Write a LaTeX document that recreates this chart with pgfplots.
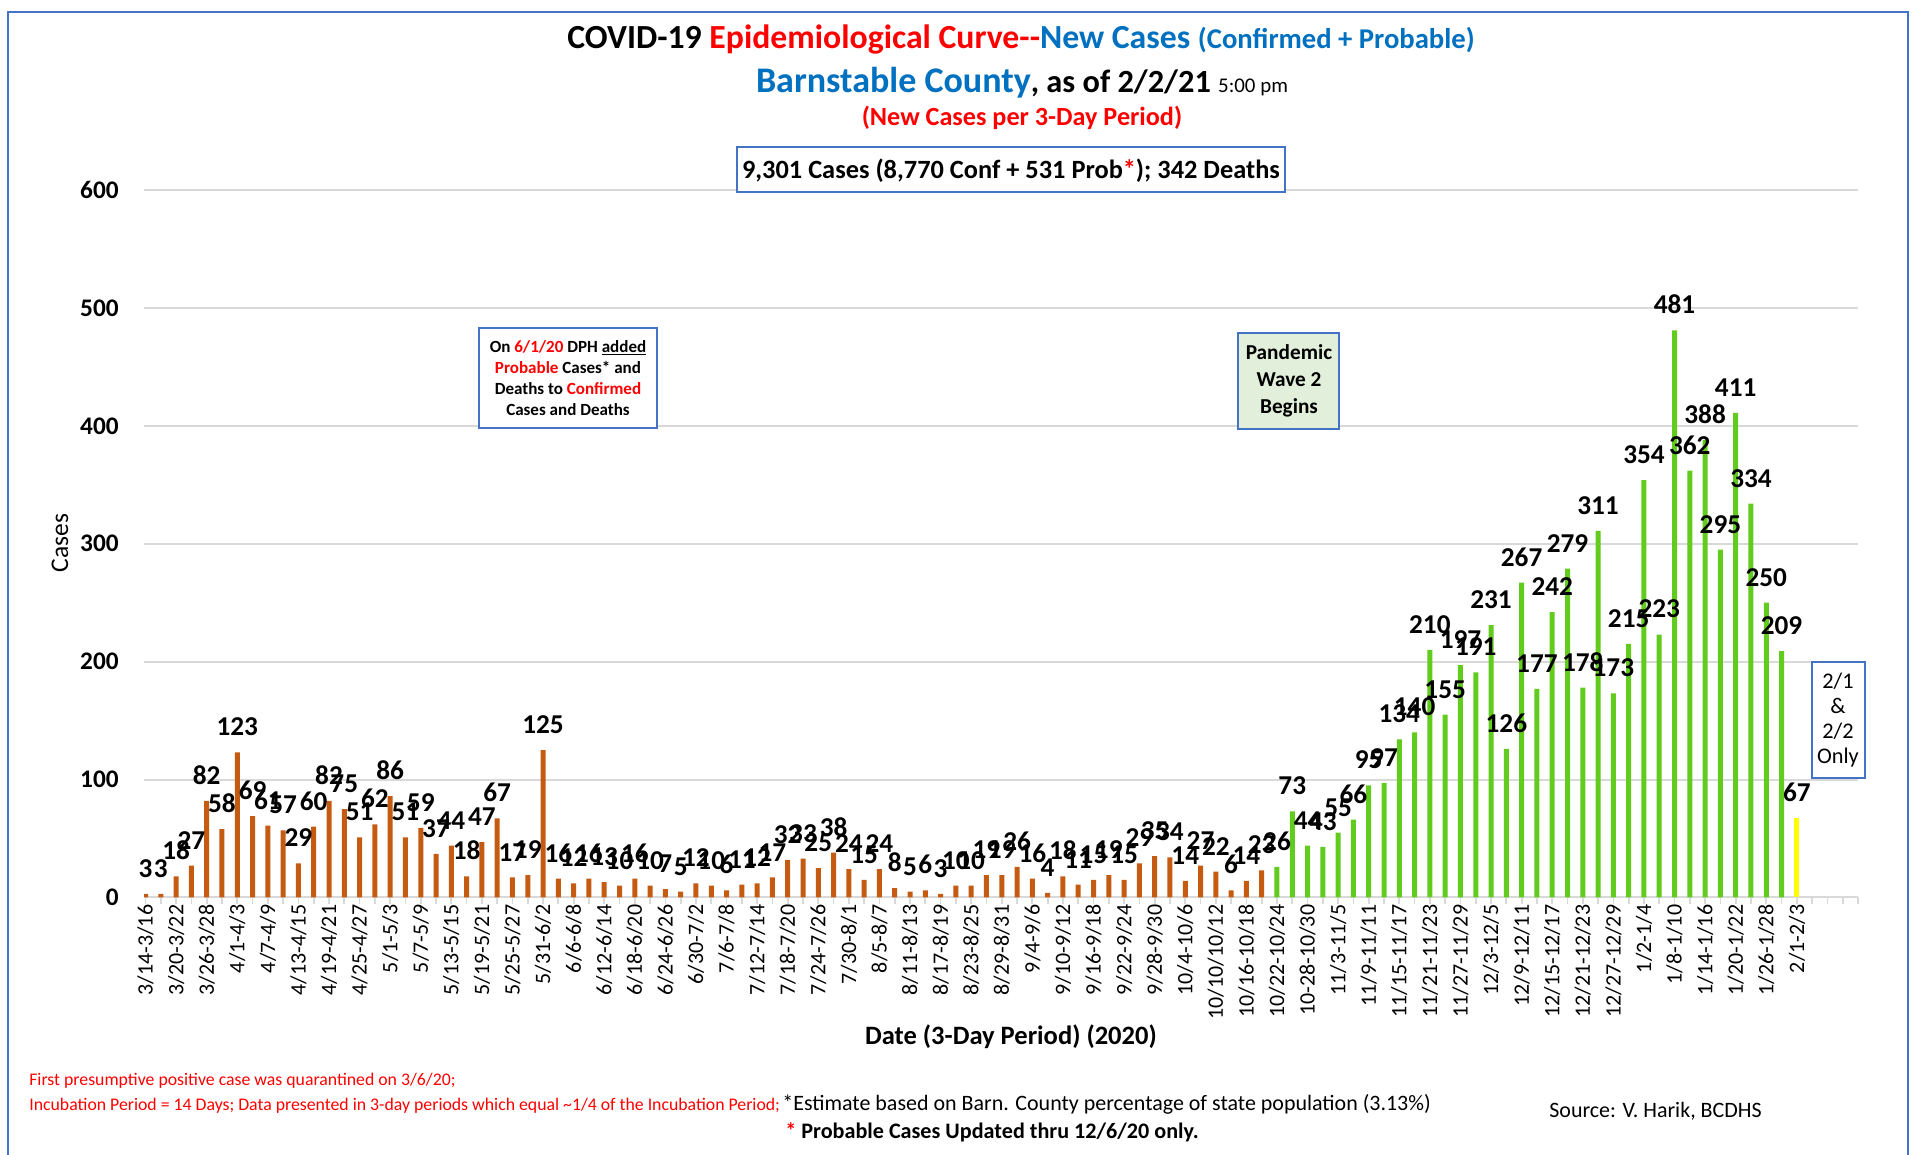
\documentclass[border=0pt]{standalone}
\usepackage{fontspec}
\setmainfont{Carlito}
\usepackage{pgfplots}
\pgfplotsset{compat=1.18}

\definecolor{barorange}{HTML}{C55A11}
\definecolor{bargreen}{HTML}{62CC1E}
\definecolor{baryellow}{HTML}{FFFF00}
\definecolor{boxblue}{HTML}{4472C4}
\definecolor{tblue}{HTML}{0070C0}
\definecolor{tred}{HTML}{FF0000}
\definecolor{wavefill}{HTML}{E2EFDA}
\definecolor{gridgray}{HTML}{D9D9D9}
\newcommand{\fs}[2]{\fontsize{#1}{#2}\selectfont}

\begin{document}
\begin{tikzpicture}
\useasboundingbox (0,0) rectangle (382.4mm,231mm);
\fill[white] (0,0) rectangle (382.4mm,231mm);

\begin{axis}[
  at={(28.8mm,51.5mm)}, anchor=south west,
  scale only axis, width=342.8mm, height=141.5mm,
  xmin=-0.1, xmax=112, ymin=0, ymax=600,
  ybar, bar shift=0pt, bar width=1mm,
  axis x line*=bottom, axis y line*=left,
  x axis line style={gridgray, line width=0.4mm},
  y axis line style={draw=none},
  ymajorgrids, major grid style={gridgray, line width=0.4mm},
  ytick={0,100,...,600}, yticklabels={0,100,200,300,400,500,600},
  ytick style={draw=none},
  yticklabel style={font=\bfseries\fs{14.4}{16}, inner sep=0pt, xshift=-3.6mm},
  tick align=outside, major tick length=1.4mm,
  xtick={0,2,...,108},
  xticklabels={3/14-3/16,3/20-3/22,3/26-3/28,4/1-4/3,4/7-4/9,4/13-4/15,4/19-4/21,4/25-4/27,
    5/1-5/3,5/7-5/9,5/13-5/15,5/19-5/21,5/25-5/27,5/31-6/2,6/6-6/8,6/12-6/14,6/18-6/20,
    6/24-6/26,6/30-7/2,7/6-7/8,7/12-7/14,7/18-7/20,7/24-7/26,7/30-8/1,8/5-8/7,8/11-8/13,
    8/17-8/19,8/23-8/25,8/29-8/31,9/4-9/6,9/10-9/12,9/16-9/18,9/22-9/24,9/28-9/30,
    10/4-10/6,10/10/10/12,10/16-10/18,10/22-10/24,10-28-10/30,11/3-11/5,11/9-11/11,
    11/15-11/17,11/21-11/23,11/27-11/29,12/3-12/5,12/9-12/11,12/15-12/17,12/21-12/23,
    12/27-12/29,1/2-1/4,1/8-1/10,1/14-1/16,1/20-1/22,1/26-1/28,2/1-2/3},
  extra x ticks={1,3,...,111,110,112}, extra x tick labels={},
  xtick style={gridgray, line width=0.35mm},
  extra x tick style={tick style={gridgray, line width=0.35mm}},
  xticklabel style={font=\fs{12.5}{14}, rotate=90, anchor=east, inner sep=0pt},
  /pgf/number format/assume math mode=true,
  nodes near coords,
  nodes near coords style={anchor=south, inner sep=0pt, yshift=3.2mm, text=black,
    font=\bfseries\fs{15.5}{17}},
]
\addplot[fill=barorange, draw=none] coordinates {
  (0,3) (1,3) (2,18) (3,27) (4,82) (5,58) (6,123) (7,69) (8,61) (9,57)
  (10,29) (11,60) (12,82) (13,75) (14,51) (15,62) (16,86) (17,51) (18,59) (19,37)
  (20,44) (21,18) (22,47) (23,67) (24,17) (25,19) (26,125) (27,16) (28,12) (29,16)
  (30,13) (31,10) (32,16) (33,10) (34,7) (35,5) (36,12) (37,10) (38,6) (39,11)
  (40,12) (41,17) (42,32) (43,33) (44,25) (45,38) (46,24) (47,15) (48,24) (49,8)
  (50,5) (51,6) (52,3) (53,10) (54,10) (55,19) (56,19) (57,26) (58,16) (59,4)
  (60,18) (61,11) (62,15) (63,19) (64,15) (65,29) (66,35) (67,34) (68,14) (69,27)
  (70,22) (71,6) (72,14) (73,23)};
\addplot[fill=bargreen, draw=none] coordinates {
  (74,26) (75,73) (76,44) (77,43) (78,55) (79,66) (80,95) (81,97) (82,134) (83,140)
  (84,210) (85,155) (86,197) (87,191) (88,231) (89,126) (90,267) (91,177) (92,242) (93,279)
  (94,178) (95,311) (96,173) (97,215) (98,354) (99,223) (100,481) (101,362) (102,388) (103,295)
  (104,411) (105,334) (106,250) (107,209)};
\addplot[fill=baryellow, draw=none] coordinates {(108,67)};
\end{axis}

\begin{scope}[x=0.2mm, y=-0.2mm, yshift=231mm]
  % outer frame
  \draw[boxblue, line width=0.4mm] (8,1170) -- (8,12) -- (1908,12) -- (1908,1170);
  % titles
  \node[anchor=base, font=\bfseries\fs{19.2}{21}] at (1021,49)
    {COVID-19 \textcolor{tred}{Epidemiological Curve-{}-}\textcolor{tblue}{New Cases {\fs{16.3}{18}(Confirmed + Probable)}}};
  \node[anchor=base, font=\bfseries] at (1022,93)
    {\textcolor{tblue}{\fs{20.5}{22}Barnstable County}\fs{18.4}{20}, as of 2/2/21 {\mdseries\fs{11.9}{13}5:00 pm}};
  \node[anchor=base, font=\bfseries\fs{14.9}{16}, text=tred] at (1022,126) {(New Cases per 3-Day Period)};
  \draw[boxblue, line width=0.5mm, fill=white] (737,147) rectangle (1285,192);
  \node[anchor=base, font=\bfseries\fs{15}{17}] at (1011,179)
    {9,301 Cases (8,770 Conf + 531 Prob\textcolor{tred}{*}); 342 Deaths};
  % annotation boxes
  \draw[boxblue, line width=0.45mm, fill=white] (479,328) rectangle (657,428);
  \node[align=center, font=\bfseries\fs{9.7}{12.1}] at (568,378)
    {On \textcolor{tred}{6/1/20} DPH \underline{added}\\
     \textcolor{tred}{Probable} Cases* and\\
     Deaths to \textcolor{tred}{Confirmed}\\
     Cases and Deaths};
  \draw[boxblue, line width=0.45mm, fill=wavefill] (1238,333) rectangle (1339,429);
  \node[align=center, font=\bfseries\fs{12.1}{15.2}] at (1289,381) {Pandemic\\Wave 2\\Begins};
  \draw[boxblue, line width=0.45mm, fill=white] (1812,662) rectangle (1865,778);
  \node[align=center, font=\fs{12.7}{14.2}] at (1838,720) {2/1\\\&\\2/2\\Only};
  % axis titles
  \node[rotate=90, font=\fs{14.5}{16}] at (60,543) {Cases};
  \node[anchor=base, font=\bfseries\fs{15.1}{17}] at (1011,1045) {Date (3-Day Period) (2020)};
  % footnotes
  \node[anchor=base west, inner sep=0pt, font=\fs{10.1}{11}, text=tred] at (29,1086)
    {First presumptive positive case was quarantined on 3/6/20;};
  \node[anchor=base west, inner sep=0pt, font=\fs{10.1}{11}, text=tred] at (29,1111)
    {Incubation Period = 14 Days; Data presented in 3-day periods which equal \textasciitilde 1/4 of the Incubation Period;};
  \node[anchor=base west, inner sep=0pt, font=\fs{12.5}{13}] at (782,1111)
    {*Estimate based on Barn. County percentage of state population (3.13\%)};
  \node[anchor=base west, inner sep=0pt, font=\fs{12.5}{13}] at (1549,1118) {Source: V. Harik, BCDHS};
  \node[anchor=base, inner sep=0pt, font=\bfseries\fs{12.6}{14}] at (992,1139)
    {\textcolor{tred}{*} Probable Cases Updated thru 12/6/20 only.};
\end{scope}
\end{tikzpicture}
\end{document}
